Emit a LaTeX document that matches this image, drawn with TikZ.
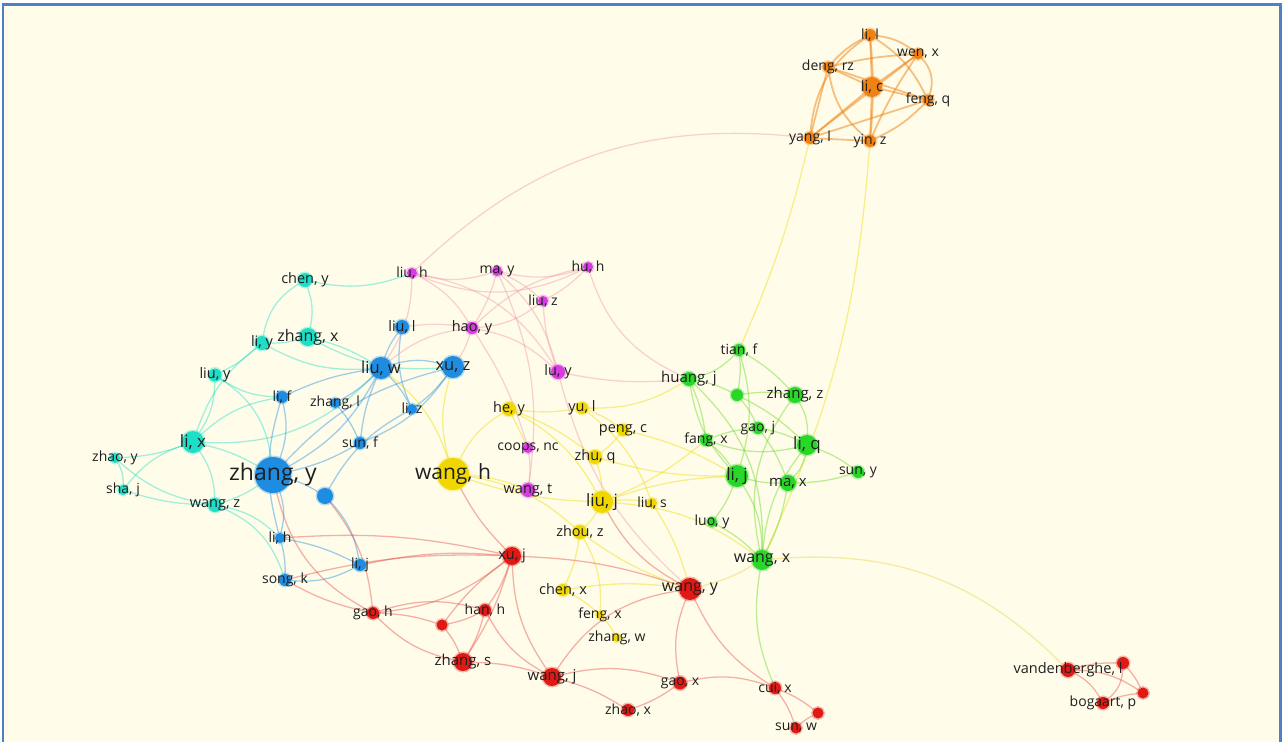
\documentclass[tikz,border=0pt]{standalone}
\usepackage{fontspec}
\setmainfont{Open Sans}
\pgfdeclarelayer{back}
\pgfdeclarelayer{bg}
\pgfsetlayers{back,bg,main}
\definecolor{paper}{RGB}{255,253,234}
\definecolor{frame}{RGB}{79,127,197}
\definecolor{corange}{RGB}{240,130,20}
\definecolor{ccyan}{RGB}{30,222,200}
\definecolor{cblue}{RGB}{30,140,225}
\definecolor{cmag}{RGB}{215,60,225}
\definecolor{cyell}{RGB}{240,215,0}
\definecolor{cgreen}{RGB}{40,215,40}
\definecolor{cred}{RGB}{225,25,20}
\definecolor{cpink}{RGB}{240,150,170}
\definecolor{cyg}{RGB}{230,210,60}
\newcommand\nd[5]{\node[dot,minimum size=#4pt,fill=#5,draw=#5] (#1) at (#2,#3) {};}
\newcommand\lb[3]{\node[lbl,font=\fontsize{#2}{#2}\selectfont] (#1-t) at (#1) {#3};}
\begin{document}
\begin{tikzpicture}[x=1pt,y=-1pt,
  dot/.style={circle,inner sep=0pt,outer sep=0pt,line width=3pt,draw opacity=.3},
  lbl/.style={inner sep=0pt,text=black!88},
  ed/.style={line width=1.3pt,opacity=.42}]
\useasboundingbox (0,0) rectangle (1285,742);
\begin{pgfonlayer}{back}
\fill[white] (0,0) rectangle (1285,742);
\fill[paper] (3,4.5) rectangle (1280.5,742);
\draw[frame,line width=2.2pt] (3,742) -- (3,4.5) -- (1280.5,4.5) -- (1280.5,742);
\end{pgfonlayer}
% orange
\nd{lil}{870}{35}{12}{corange}
\nd{deng}{828}{67}{11}{corange}
\nd{wen}{918}{54}{11}{corange}
\nd{lic}{872}{87}{20}{corange}
\nd{feng}{928}{100}{11}{corange}
\nd{yangl}{810}{138}{12}{corange}
\nd{yin}{870}{141}{12}{corange}
% cyan
\nd{cheny}{305}{280}{14}{ccyan}
\nd{zhangx}{308}{337}{18}{ccyan}
\nd{liy}{262}{343}{14}{ccyan}
\nd{liuy}{215}{375}{13}{ccyan}
\nd{lix}{193}{442}{22}{ccyan}
\nd{zhaoy}{115}{458}{10}{ccyan}
\nd{shaj}{123}{490}{10}{ccyan}
\nd{wangz}{215}{505}{14}{ccyan}
% blue
\nd{zhangy}{273}{475}{36}{cblue}
\nd{bunl}{325}{496}{16}{cblue}
\nd{liuw}{381}{368}{22}{cblue}
\nd{xuz}{453}{367}{22}{cblue}
\nd{liul}{402}{327}{14}{cblue}
\nd{lif}{282}{397}{12}{cblue}
\nd{zhangl}{335}{403}{10}{cblue}
\nd{liz}{412}{409}{10}{cblue}
\nd{sunf}{360}{443}{12}{cblue}
\nd{lih}{280}{538}{10}{cblue}
\nd{lijb}{360}{565}{12}{cblue}
\nd{songk}{285}{580}{12}{cblue}
% magenta
\nd{liuh}{412}{273}{10}{cmag}
\nd{may}{497}{271}{10}{cmag}
\nd{huh}{588}{267}{10}{cmag}
\nd{liuz}{543}{301}{10}{cmag}
\nd{haoy}{472}{328}{12}{cmag}
\nd{luy}{558}{372}{14}{cmag}
\nd{coops}{528}{448}{10}{cmag}
\nd{wangt}{528}{490}{14}{cmag}
% yellow
\nd{wangh}{453}{474}{32}{cyell}
\nd{hey}{509}{409}{14}{cyell}
\nd{yul}{582}{408}{12}{cyell}
\nd{pengc}{623}{430}{12}{cyell}
\nd{zhuq}{595}{457}{14}{cyell}
\nd{liuj}{602}{502}{22}{cyell}
\nd{lius}{652}{503}{10}{cyell}
\nd{zhouz}{580}{532}{14}{cyell}
\nd{chenx}{563}{590}{12}{cyell}
\nd{fengx}{600}{615}{8}{cyell}
\nd{zhangw}{617}{638}{8}{cyell}
% green
\nd{tianf}{739}{350}{12}{cgreen}
\nd{huangj}{689}{379}{14}{cgreen}
\nd{gunl}{737}{395}{12}{cgreen}
\nd{zhangz}{795}{395}{16}{cgreen}
\nd{gaoj}{758}{428}{12}{cgreen}
\nd{fangx}{706}{440}{12}{cgreen}
\nd{liq}{807}{445}{20}{cgreen}
\nd{lijg}{737}{476}{22}{cgreen}
\nd{max}{788}{483}{16}{cgreen}
\nd{suny}{858}{472}{12}{cgreen}
\nd{luoy}{712}{522}{10}{cgreen}
\nd{wangx}{762}{560}{20}{cgreen}
% red
\nd{xuj}{512}{556}{18}{cred}
\nd{wangy}{690}{589}{22}{cred}
\nd{gaoh}{373}{613}{12}{cred}
\nd{hanh}{485}{610}{12}{cred}
\nd{runl}{442}{625}{11}{cred}
\nd{zhangs}{463}{662}{18}{cred}
\nd{wangj}{552}{677}{18}{cred}
\nd{gaox}{680}{683}{13}{cred}
\nd{zhaox}{628}{710}{12}{cred}
\nd{cuix}{775}{688}{12}{cred}
\nd{runlb}{818}{713}{11}{cred}
\nd{sunw}{796}{728}{11}{cred}
\nd{vdb}{1068}{670}{14}{cred}
\nd{rra}{1123}{663}{12}{cred}
\nd{rrb}{1143}{693}{11}{cred}
\nd{bog}{1103}{703}{12}{cred}
\begin{pgfonlayer}{bg}
\foreach \a/\b/\k in {lil/deng/-10,lil/wen/15,lil/lic/0,lil/feng/15,lil/yin/5,lil/yangl/-25,deng/lic/0,deng/yangl/0,deng/yin/-20,deng/feng/0,deng/wen/5,wen/lic/0,wen/feng/30,wen/yangl/0,wen/yin/-5,lic/yangl/0,lic/yin/0,lic/feng/0,feng/yangl/0,feng/yin/10,yangl/yin/0}
  \draw[ed,draw=corange,line width=1.8pt,opacity=.5] (\a) to[bend left=\k] (\b);
\draw[ed,draw=cpink] (yangl) to[bend right=25] (liuh);
\draw[ed,draw=cyell] (yangl) to[bend left=5] (tianf);
\draw[ed,draw=cyell] (yin) to[bend left=10] (wangx);
\foreach \a/\b/\k in {cheny/zhangx/10,cheny/liy/-15,zhangx/liy/5,liy/liuy/5,liy/lix/-10,liuy/lix/10,lix/zhaoy/5,lix/shaj/-10,zhaoy/shaj/10,lix/wangz/10,zhaoy/wangz/-10,shaj/wangz/-5,lix/zhangy/5,wangz/zhangy/-5,zhangx/liuw/5,liy/liuw/-10,liuy/lif/-10,wangz/songk/15,wangz/lih/10,lix/liuw/-15,zhangx/xuz/-10,liuy/zhangy/15,cheny/liuh/-10,lix/lif/10}
  {\pgfmathsetmacro\kk{1.6*\k}\draw[ed,draw=ccyan] (\a) to[bend left=\kk] (\b);}
\foreach \a/\b/\k in {liuw/xuz/10,liuw/liul/5,liuw/liz/5,liuw/zhangl/5,liuw/lif/-5,liuw/zhangy/10,liuw/sunf/-5,xuz/liz/5,xuz/zhangy/-10,liul/liz/-10,zhangy/bunl/5,zhangy/lih/10,lih/songk/5,lih/lijb/5,bunl/lijb/10,lif/lih/-10,sunf/zhangy/5,zhangl/sunf/5,bunl/liz/10,xuz/sunf/10,lif/zhangy/10,songk/lijb/-10}
  {\pgfmathsetmacro\kk{1.6*\k}\draw[ed,draw=cblue] (\a) to[bend left=\kk] (\b);}
\foreach \a/\b/\k in {liuh/may/-10,liuh/haoy/10,liuh/huh/-15,may/haoy/5,may/liuz/5,may/luy/10,may/huh/-10,huh/liuz/5,huh/haoy/-10,liuz/haoy/10,liuz/luy/-5,haoy/luy/10,liuh/luy/15,haoy/coops/5,coops/wangt/5,may/wangt/10,huh/huangj/-15,liuh/liuw/10,haoy/liuw/-10,haoy/xuz/5,luy/wangy/-10,luy/huangj/-5,liul/haoy/5}
  {\pgfmathsetmacro\kk{1.6*\k}\draw[ed,draw=cpink] (\a) to[bend left=\kk] (\b);}
\foreach \a/\b/\k in {wangh/hey/10,wangh/liuj/-5,wangh/zhouz/10,hey/yul/-5,yul/pengc/5,pengc/zhuq/5,zhuq/liuj/5,liuj/lius/5,liuj/zhouz/5,pengc/lijg/5,chenx/fengx/5,fengx/zhangw/5,zhouz/chenx/5,hey/liuj/10,yul/huangj/-10,wangh/xuz/10,wangh/liuw/-10,liuj/fangx/-5,zhouz/wangy/-5,chenx/wangy/5,hey/zhuq/5,wangh/wangt/5,hey/coops/0,yul/lius/10,zhouz/fengx/10,lius/wangy/5,zhuq/lijg/-5,liuj/lijg/5,liuj/wangx/10}
  {\pgfmathsetmacro\kk{1.6*\k}\draw[ed,draw=cyell] (\a) to[bend left=\kk] (\b);}
\foreach \a/\b/\k in {tianf/huangj/10,tianf/gunl/5,tianf/lijg/10,huangj/fangx/5,huangj/lijg/-10,huangj/gunl/5,gunl/zhangz/5,zhangz/liq/10,gunl/gaoj/5,gaoj/liq/5,gaoj/max/5,gaoj/fangx/-5,fangx/lijg/5,lijg/max/-5,liq/max/10,liq/suny/5,max/suny/-5,lijg/luoy/5,luoy/wangx/5,max/wangx/5,liq/wangx/-10,lijg/wangx/10,huangj/wangx/15,zhangz/wangx/-15,wangx/cuix/-10,tianf/zhangz/5,gunl/liq/5,fangx/liq/-10}
  {\pgfmathsetmacro\kk{1.6*\k}\draw[ed,draw=cgreen!70!cyell] (\a) to[bend left=\kk] (\b);}
\draw[ed,draw=cyg] (wangx) to[bend left=25] (vdb);
\draw[ed,draw=cyg] (wangx) to[bend left=8] (wangy);
\foreach \a/\b/\k in {xuj/gaoh/10,xuj/hanh/5,xuj/runl/-5,xuj/zhangs/5,xuj/wangj/-10,xuj/wangy/5,xuj/lih/-5,gaoh/zhangs/-10,gaoh/hanh/10,gaoh/runl/5,gaoh/zhangy/15,gaoh/songk/5,hanh/runl/5,hanh/zhangs/5,hanh/wangj/-10,runl/zhangs/5,zhangs/wangj/5,wangj/wangy/15,wangj/gaox/10,wangj/zhaox/5,wangy/gaox/-10,wangy/cuix/-10,wangy/liuj/10,gaox/zhaox/5,gaox/cuix/10,cuix/sunw/5,cuix/runlb/5,sunw/runlb/5,xuj/wangh/5,gaoh/bunl/-10,songk/xuj/5,lijb/xuj/5,vdb/rra/5,vdb/bog/10,vdb/rrb/10,bog/rra/-15,bog/rrb/5,rra/rrb/5}
  {\pgfmathsetmacro\kk{1.6*\k}\draw[ed,draw=cred!80!white] (\a) to[bend left=\kk] (\b);}
\end{pgfonlayer}
% labels
\lb{lil}{14}{li, l}
\lb{deng}{14}{deng, rz}
\lb{wen}{14}{wen, x}
\lb{lic}{15}{li, c}
\lb{feng}{14}{feng, q}
\lb{yangl}{14}{yang, l}
\lb{yin}{14}{yin, z}
\lb{cheny}{14.5}{chen, y}
\lb{zhangx}{16}{zhang, x}
\lb{liy}{14.5}{li, y}
\lb{liuy}{14.5}{liu, y}
\lb{lix}{17}{li, x}
\lb{zhaoy}{14}{zhao, y}
\lb{shaj}{14}{sha, j}
\lb{wangz}{14.5}{wang, z}
\lb{zhangy}{23}{zhang, y}
\lb{liuw}{16.5}{liu, w}
\lb{xuz}{16.5}{xu, z}
\lb{liul}{14.5}{liu, l}
\lb{lif}{14}{li, f}
\lb{zhangl}{14}{zhang, l}
\lb{liz}{14}{li, z}
\lb{sunf}{14}{sun, f}
\lb{lih}{14}{li, h}
\lb{lijb}{14}{li, j}
\lb{songk}{14}{song, k}
\lb{liuh}{14}{liu, h}
\lb{may}{14}{ma, y}
\lb{huh}{14}{hu, h}
\lb{liuz}{14}{liu, z}
\lb{haoy}{14.5}{hao, y}
\lb{luy}{14.5}{lu, y}
\lb{coops}{14}{coops, nc}
\lb{wangt}{14.5}{wang, t}
\lb{wangh}{21}{wang, h}
\lb{hey}{14.5}{he, y}
\lb{yul}{14.5}{yu, l}
\lb{pengc}{14.5}{peng, c}
\lb{zhuq}{14.5}{zhu, q}
\lb{liuj}{17}{liu, j}
\lb{lius}{14}{liu, s}
\lb{zhouz}{14.5}{zhou, z}
\lb{chenx}{14.5}{chen, x}
\lb{fengx}{14}{feng, x}
\lb{zhangw}{14}{zhang, w}
\lb{tianf}{14}{tian, f}
\lb{huangj}{15}{huang, j}
\lb{zhangz}{15}{zhang, z}
\lb{gaoj}{14}{gao, j}
\lb{fangx}{14}{fang, x}
\lb{liq}{17}{li, q}
\lb{lijg}{17}{li, j}
\lb{max}{15}{ma, x}
\lb{suny}{14}{sun, y}
\lb{luoy}{14}{luo, y}
\lb{wangx}{16}{wang, x}
\lb{xuj}{14.5}{xu, j}
\lb{wangy}{16}{wang, y}
\lb{gaoh}{14}{gao, h}
\lb{hanh}{14}{han, h}
\lb{zhangs}{15}{zhang, s}
\lb{wangj}{15}{wang, j}
\lb{gaox}{14}{gao, x}
\lb{zhaox}{14}{zhao, x}
\lb{cuix}{14}{cui, x}
\lb{sunw}{14}{sun, w}
\lb{vdb}{14.5}{vandenberghe, l}
\lb{bog}{14}{bogaart, p}
\end{tikzpicture}
\end{document}
